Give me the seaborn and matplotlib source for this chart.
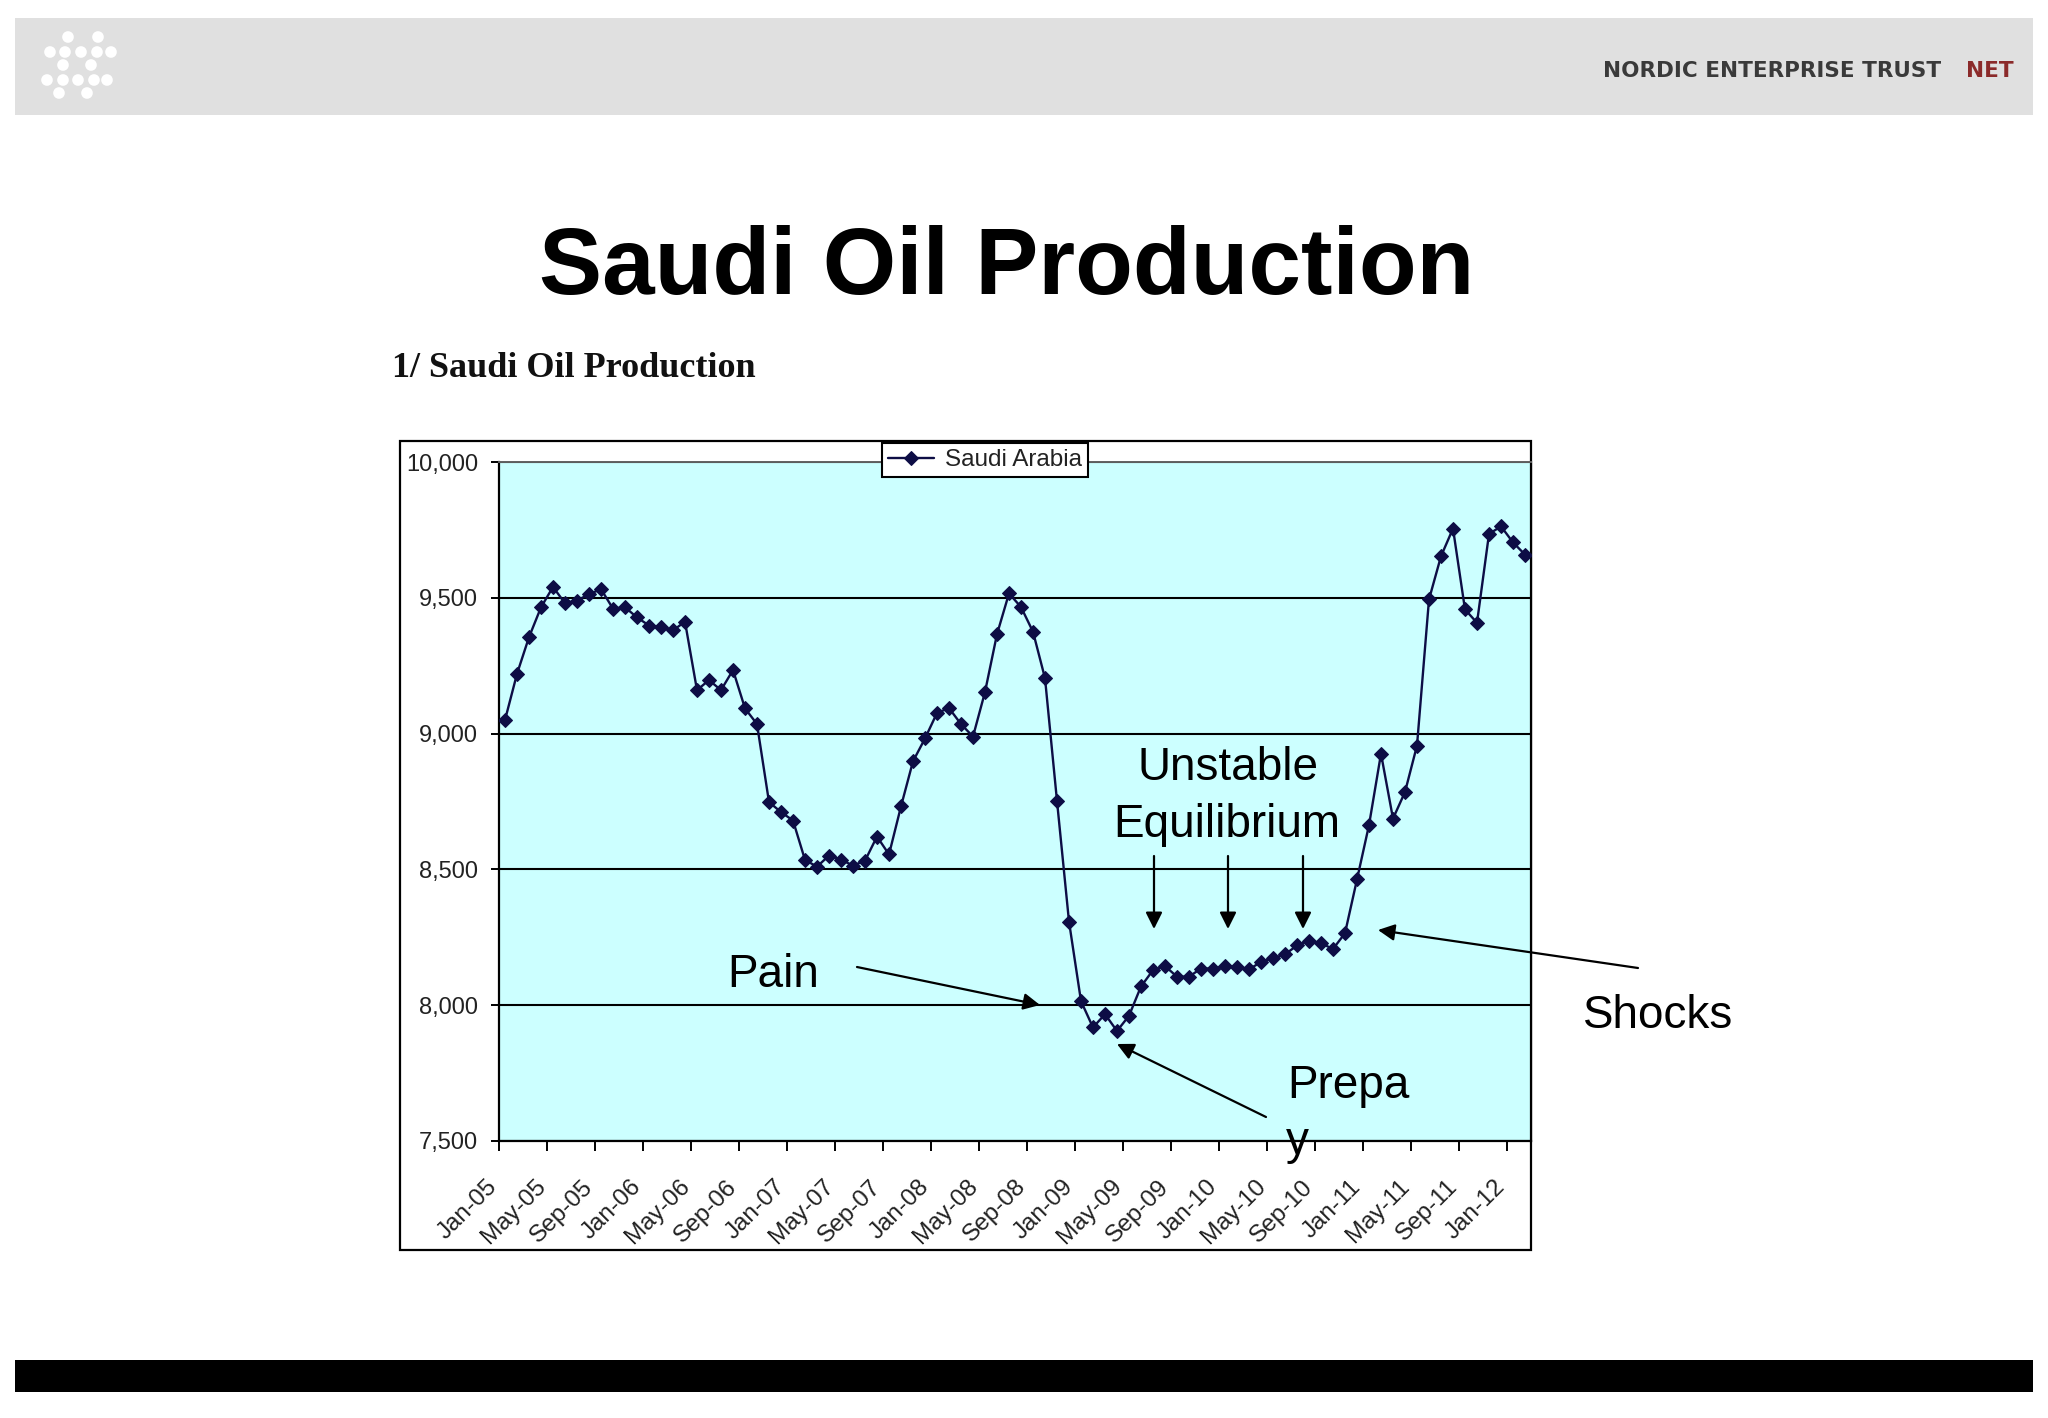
import numpy as np
import pandas as pd
import matplotlib
matplotlib.use("Agg")
import matplotlib.pyplot as plt
import matplotlib.transforms as mtransforms
from matplotlib.patches import Rectangle
from matplotlib.ticker import FuncFormatter
import seaborn as sns

# ---------------- data ----------------
month_names = ["Jan", "Feb", "Mar", "Apr", "May", "Jun",
               "Jul", "Aug", "Sep", "Oct", "Nov", "Dec"]
months = [f"{m}-{y:02d}" for y in range(5, 13) for m in month_names][:86]  # Jan-05 .. Feb-12

production = [
    9050, 9220, 9355, 9465, 9540, 9480, 9490, 9513, 9532, 9460,
    9465, 9428, 9398, 9392, 9380, 9412, 9160, 9197, 9160, 9234,
    9093, 9035, 8748, 8711, 8680, 8535, 8510, 8551, 8536, 8514,
    8532, 8621, 8555, 8732, 8898, 8982, 9076, 9094, 9035, 8989,
    9153, 9366, 9516, 9466, 9375, 9204, 8752, 8308, 8015, 7918,
    7967, 7905, 7961, 8069, 8129, 8144, 8105, 8105, 8135, 8135,
    8144, 8140, 8132, 8159, 8173, 8187, 8220, 8238, 8228, 8207,
    8265, 8463, 8663, 8926, 8687, 8785, 8956, 9494, 9653, 9755,
    9457, 9408, 9735, 9763, 9704, 9659,
]

tick_labels = ["Jan-05", "May-05", "Sep-05", "Jan-06", "May-06", "Sep-06",
               "Jan-07", "May-07", "Sep-07", "Jan-08", "May-08", "Sep-08",
               "Jan-09", "May-09", "Sep-09", "Jan-10", "May-10", "Sep-10",
               "Jan-11", "May-11", "Sep-11", "Jan-12"]
y_ticks = [7500, 8000, 8500, 9000, 9500, 10000]
series_name = "Saudi Arabia"

df = pd.DataFrame({"idx": np.arange(len(production)), "month": months,
                   "value": production})

# ---------------- figure ----------------
W, H = 2048, 1418
sns.set_theme(style="white")
plt.rcParams["font.family"] = ["Liberation Sans", "DejaVu Sans"]
plt.rcParams["text.color"] = "black"

fig = plt.figure(figsize=(W / 100, H / 100), dpi=100)
fig.patch.set_facecolor("white")


def box(x0, y0, x1, y1):
    return [x0 / W, 1 - y1 / H, (x1 - x0) / W, (y1 - y0) / H]


# background / decoration layer
bg = fig.add_axes([0, 0, 1, 1], zorder=0)
bg.set_xlim(0, W)
bg.set_ylim(H, 0)
bg.axis("off")
bg.add_patch(Rectangle((15, 18), 2018, 97, facecolor="#e0e0e0", edgecolor="none"))
bg.add_patch(Rectangle((15, 1360), 2018, 32, facecolor="black", edgecolor="none"))
bg.add_patch(Rectangle((400, 441), 1131, 809, facecolor="white",
                       edgecolor="black", lw=1.6))
# logo dots
dots = [(68, 37), (98, 37),
        (50, 52), (65, 52), (81, 52), (97, 52), (111, 52),
        (63, 65), (91, 65),
        (47, 80), (63, 80), (78, 80), (94, 80), (107, 80),
        (59, 93), (87, 93)]
bg.scatter([d[0] for d in dots], [d[1] for d in dots], s=70, color="white",
           edgecolors="none")
bg.text(1941, 71, "NORDIC ENTERPRISE TRUST", ha="right", va="center",
        fontsize=15.5, fontweight="bold", color="#3a3a3a",
        family=["DejaVu Sans"])
bg.text(2014, 71, "NET", ha="right", va="center", fontsize=15.5,
        fontweight="bold", color="#8b2a2a", family=["DejaVu Sans"])

# ---------------- main chart ----------------
ax = fig.add_axes(box(499, 462, 1531, 1141), zorder=1)
ax.set_facecolor("#CCFFFF")
sns.lineplot(data=df, x="idx", y="value", ax=ax, marker="D", markersize=7.5,
             color="#0d0d45", markeredgecolor="#0d0d45", linewidth=1.7,
             label=series_name, zorder=3)

ax.set_xlim(-0.5, len(production) - 0.5)
ax.set_ylim(7500, 10000)
ax.set_yticks(y_ticks)
ax.yaxis.set_major_formatter(FuncFormatter(lambda v, p: f"{int(v):,}"))
ax.set_xticks(np.arange(0, len(production), 4) - 0.5)
ax.set_xticklabels(tick_labels, rotation=45, ha="right", va="center",
                   rotation_mode="anchor")
ax.set_xlabel("")
ax.set_ylabel("")

ax.yaxis.grid(True, color="black", lw=1.5)
ax.xaxis.grid(False)
ax.set_axisbelow(True)
for s in ["left", "bottom", "right"]:
    ax.spines[s].set_color("black")
    ax.spines[s].set_linewidth(1.6)
ax.spines["top"].set_color("#606060")
ax.spines["top"].set_linewidth(1.4)

ax.tick_params(axis="y", left=True, direction="out", length=6, width=1.4,
               color="black", labelsize=17, labelcolor="#222222", pad=9)
ax.tick_params(axis="x", bottom=True, direction="out", length=7.5, width=1.4,
               color="black", labelsize=17.5, labelcolor="#222222", pad=23)
offset = mtransforms.ScaledTranslation(-5 / 100, 0, fig.dpi_scale_trans)
for lbl in ax.get_xticklabels():
    lbl.set_transform(lbl.get_transform() + offset)

leg = ax.legend(loc="upper left", bbox_to_anchor=(882 / W, 1 - 443 / H),
                bbox_transform=fig.transFigure, frameon=True, fancybox=False,
                edgecolor="black", facecolor="white", framealpha=1,
                fontsize=17.5, borderpad=0.25, handlelength=1.9,
                handletextpad=0.45, borderaxespad=0)
leg.get_frame().set_linewidth(1.5)
for t in leg.get_texts():
    t.set_color("#222222")

# ---------------- annotations overlay ----------------
ov = fig.add_axes([0, 0, 1, 1], zorder=3)
ov.set_xlim(0, W)
ov.set_ylim(H, 0)
ov.axis("off")
ov.patch.set_alpha(0)

ov.text(1007, 294, "Saudi Oil Production", ha="center", va="baseline",
        fontsize=68, fontweight="bold", color="black")
ov.text(392, 377, "1/ Saudi Oil Production", ha="left", va="baseline",
        fontsize=26, fontweight="bold", color="#111111",
        family=["Liberation Serif", "DejaVu Serif"])

ann_fs = 33
ann_c = "black"
ov.text(1228, 780, "Unstable", ha="center", va="baseline", fontsize=ann_fs, color=ann_c)
ov.text(1227, 837, "Equilibrium", ha="center", va="baseline", fontsize=ann_fs, color=ann_c)
ov.text(727, 987, "Pain", ha="left", va="baseline", fontsize=ann_fs, color=ann_c)
ov.text(1583, 1028, "Shocks", ha="left", va="baseline", fontsize=ann_fs, color=ann_c)
ov.text(1287, 1098, "Prepa", ha="left", va="baseline", fontsize=ann_fs, color=ann_c)
ov.text(1286, 1154, "y", ha="left", va="baseline", fontsize=ann_fs, color=ann_c)

arrow_kw = dict(arrowstyle="-|>", color="black", lw=1.6, mutation_scale=25,
                shrinkA=0, shrinkB=0)
for x in [1154, 1228, 1303]:
    ov.annotate("", xy=(x, 929), xytext=(x, 856), arrowprops=arrow_kw)
ov.annotate("", xy=(1040, 1005), xytext=(857, 967), arrowprops=arrow_kw)
ov.annotate("", xy=(1378, 930), xytext=(1638, 968), arrowprops=arrow_kw)
ov.annotate("", xy=(1117, 1044), xytext=(1266, 1117), arrowprops=arrow_kw)

fig.savefig("out.png", dpi=100, facecolor="white")
